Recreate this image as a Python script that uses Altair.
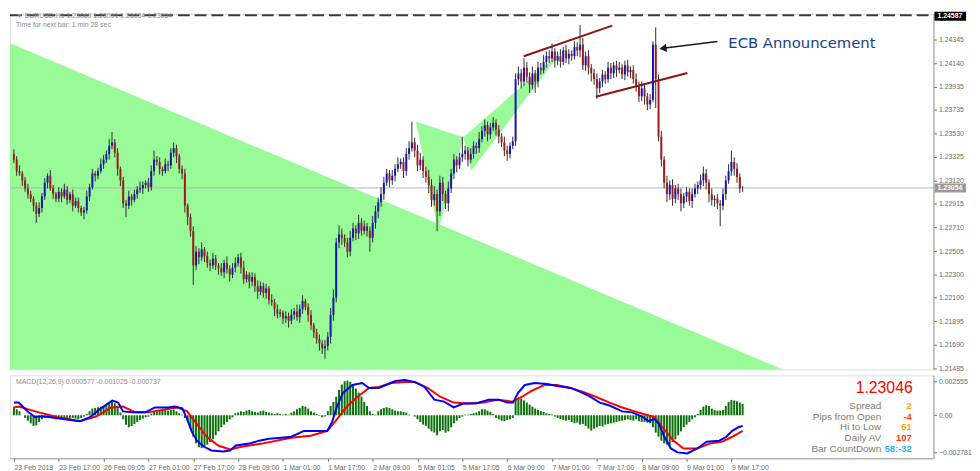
import altair as alt
import pandas as pd

# ---------------- candle data (prices in 1e-4 units) ----------------
first_open = 12335
closes = [
    12330, 12320, 12318, 12312, 12305, 12300, 12296, 12290, 12283, 12288,
    12298, 12310, 12316, 12305, 12300, 12296, 12302, 12298, 12304, 12295,
    12300, 12290, 12294, 12288, 12284, 12286, 12298, 12306, 12318, 12316,
    12320, 12326, 12330, 12335, 12342, 12345, 12336, 12322, 12312, 12292,
    12290, 12298, 12295, 12300, 12304, 12305, 12308, 12310, 12306, 12320,
    12330, 12328, 12322, 12320, 12326, 12325, 12336, 12340, 12333, 12322,
    12318, 12290, 12280, 12268, 12238, 12250, 12245, 12252, 12246, 12240,
    12238, 12244, 12238, 12236, 12232, 12240, 12235, 12230, 12236, 12240,
    12245, 12236, 12226, 12230, 12224, 12228, 12220, 12215, 12220, 12214,
    12218, 12208, 12206, 12200, 12196, 12197, 12192, 12194, 12190, 12195,
    12198, 12193, 12200, 12207, 12202, 12195, 12186, 12180, 12174, 12170,
    12166, 12168, 12176, 12195, 12210, 12258, 12265, 12262, 12258, 12250,
    12262, 12270, 12266, 12275, 12268, 12272, 12268, 12262, 12275, 12285,
    12293, 12300, 12310, 12318, 12312, 12316, 12322, 12326, 12328, 12320,
    12335, 12340, 12345, 12338, 12325, 12330, 12320, 12315, 12308, 12295,
    12300, 12285, 12310, 12300, 12292, 12305, 12318, 12330, 12325, 12332,
    12335, 12338, 12330, 12335, 12342, 12340, 12348, 12355, 12360, 12352,
    12358, 12362, 12356, 12350, 12345, 12338, 12335, 12342, 12346, 12400,
    12405, 12398, 12410, 12402, 12395, 12405, 12398, 12410, 12408, 12415,
    12420, 12418, 12424, 12416, 12420, 12415, 12425, 12418, 12422, 12420,
    12428, 12425, 12430, 12412, 12420, 12410, 12405, 12400, 12392, 12398,
    12404, 12400, 12410, 12405, 12412, 12408, 12410, 12404, 12412, 12406,
    12408, 12400, 12395, 12385, 12392, 12385, 12378, 12382, 12430, 12400,
    12350, 12330, 12310, 12300, 12308, 12296, 12305, 12300, 12292, 12298,
    12302, 12294, 12300, 12305, 12308, 12312, 12318, 12310, 12300, 12295,
    12296, 12292, 12290, 12300, 12312, 12320, 12328, 12322, 12315, 12305, 12305,
]
up_wick = [
    4, 3, 5, 2, 3, 4, 3, 2, 3, 5,  3, 4, 2, 5, 3, 2, 4, 3, 5, 3,
    2, 4, 3, 3, 2, 3, 5, 3, 4, 2,  3, 5, 4, 3, 6, 9, 3, 4, 2, 3,
    3, 5, 2, 4, 3, 6, 3, 2, 4, 5,  8, 3, 4, 2, 5, 3, 4, 5, 3, 2,
    3, 4, 2, 3, 4, 5, 3, 6, 2, 4,  3, 5, 3, 2, 4, 3, 6, 3, 4, 5,
    3, 4, 6, 3, 2, 4, 3, 5, 4, 3,  4, 2, 5, 3, 4, 3, 2, 4, 3, 5,
    3, 6, 4, 5, 2, 3, 4, 2, 3, 4,  3, 5, 4, 6, 7, 4, 8, 5, 3, 4,
    6, 5, 3, 7, 4, 5, 3, 4, 6, 5,  4, 6, 5, 4, 3, 5, 4, 6, 3, 4,
    5, 6, 18, 4, 5, 6, 3, 4, 6, 5, 7, 4, 6, 5, 3, 6, 4, 5, 3, 4,
    15, 4, 3, 5, 4, 3, 6, 4, 5, 3, 4, 5, 3, 4, 3, 5, 4, 3, 4, 5,
    6, 4, 8, 5, 4, 6, 3, 5, 4, 6,  4, 5, 7, 3, 4, 6, 3, 5, 4, 3,
    5, 4, 17, 6, 4, 5, 3, 4, 5, 3, 4, 3, 5, 4, 3, 4, 5, 3, 4, 5,
    3, 4, 5, 3, 6, 4, 3, 5, 3, 15, 4, 5, 3, 6, 4, 5, 3, 4, 5, 3,
    4, 3, 5, 4, 3, 5, 6, 4, 3, 5,  3, 4, 3, 5, 4, 6, 10, 4, 5, 3, 2,
]
low_wick = [
    3, 4, 2, 5, 3, 4, 3, 5, 8, 3,  4, 3, 5, 2, 4, 3, 3, 5, 2, 4,
    3, 5, 2, 4, 3, 6, 3, 4, 2, 5,  3, 2, 4, 3, 5, 3, 4, 6, 5, 4,
    10, 3, 5, 2, 4, 3, 5, 3, 4, 3, 4, 3, 5, 4, 2, 5, 3, 4, 6, 4,
    5, 6, 7, 5, 17, 4, 6, 3, 5, 4, 5, 3, 4, 6, 3, 5, 4, 6, 3, 4,
    3, 5, 4, 3, 6, 4, 5, 6, 3, 4,  5, 4, 3, 6, 4, 3, 5, 4, 6, 3,
    4, 3, 5, 4, 3, 6, 4, 5, 4, 6,  5, 9, 4, 6, 5, 4, 5, 6, 4, 5,
    4, 3, 6, 5, 4, 3, 5, 12, 4, 5, 6, 4, 5, 3, 6, 4, 5, 3, 4, 6,
    4, 5, 3, 6, 5, 4, 6, 5, 7, 6,  5, 17, 4, 6, 5, 7, 4, 5, 6, 3,
    4, 5, 6, 3, 4, 5, 4, 3, 5, 6,  4, 3, 5, 6, 4, 5, 6, 4, 3, 4,
    5, 6, 4, 5, 7, 4, 10, 5, 4, 3, 5, 4, 3, 6, 4, 5, 3, 4, 5, 4,
    3, 5, 6, 4, 5, 6, 7, 5, 9, 4,  5, 4, 3, 5, 4, 6, 3, 4, 5, 4,
    5, 4, 6, 5, 4, 7, 5, 4, 2, 25, 4, 6, 5, 7, 5, 6, 4, 5, 7, 4,
    5, 4, 6, 3, 5, 4, 5, 6, 7, 5,  6, 5, 18, 4, 5, 3, 4, 6, 5, 4, 3,
]

# ---------------- MACD panel data ----------------
macd_hist = [  # 1e-6 units
    600, 450, 300, 0, -200, -400, -600, -800, -750, -500,
    -300, -200, -150, -200, -250, -300, -250, -200, -250, -300,
    -250, -200, -250, -300, -200, -100, 100, 300, 500, 550,
    600, 650, 700, 800, 950, 1000, 900, 700, 200, -300,
    -700, -900, -800, -650, -500, -350, -250, -150, -100, 100,
    250, 300, 350, 400, 380, 350, 400, 420, 300, 150,
    50, -200, -400, -1000, -1600, -2100, -2400, -2450, -2300, -2200,
    -2000, -1800, -1500, -1200, -900, -700, -500, -300, -150, 150,
    200, 300, 250, 350, 400, 300, 250, 200, 300, 350,
    250, 200, 150, 100, 150, 100, 50, 100, 50, 200,
    300, 450, 550, 700, 650, 500, 300, 200, 100, -50,
    -150, -100, 300, 700, 1000, 1400, 1900, 2300, 2550, 2600,
    2500, 2300, 2000, 1700, 1400, 1000, 700, 300, 100, 50,
    300, 450, 550, 600, 550, 450, 350, 300, 300, 250,
    200, 50, 0, -100, -300, -500, -700, -800, -1000, -1200,
    -1300, -1500, -1200, -1100, -1300, -1200, -900, -600, -400, -200,
    -100, 50, 50, 100, 150, 200, 300, 450, 450, 350,
    250, 100, -200, -300, -400, -450, -350, -300, -200, 1200,
    1300, 1250, 1100, 950, 800, 650, 500, 400, 300, 250,
    150, 100, 50, -100, -200, -300, -350, -400, -350, -500,
    -600, -550, -700, -650, -800, -1000, -1150, -1000, -900, -800,
    -850, -700, -650, -600, -550, -500, -450, -400, -350, -300,
    -350, -400, -300, -450, -500, -500, -550, -600, -900, -1300,
    -1600, -1900, -2100, -2200, -2250, -2000, -1800, -1500, -1200, -900,
    -700, -500, -300, -150, 100, 400, 650, 750, 700, 500,
    400, 350, 350, 400, 700, 1000, 1150, 1100, 1050, 950, 850,
]
blue_i = [0, 1.7, 3.5, 5.2, 7.6, 9.7, 13.2, 18.1, 23.6, 27.1, 30.6, 33.0, 35.1, 37.2, 38.9,
          42.4, 46.9, 50.3, 54.9, 57.3, 60.1, 61.8, 63.5, 65.3, 67.7, 70.5, 74.7, 77.1, 79.2,
          84.0, 87.5, 91.0, 95.5, 99.0, 103.5, 106.9, 109.4, 111.8, 113.5, 115.3, 117.4, 120.8,
          124.3, 126.7, 130.2, 136.1, 139.6, 143.1, 146.5, 150.0, 153.5, 156.9, 160.4, 164.9,
          169.4, 172.9, 176.0, 178.1, 179.9, 182.3, 185.8, 190.3, 193.8, 198.6, 202.1, 205.6,
          209.0, 212.5, 217.0, 220.5, 224.0, 226.4, 228.5, 230.2, 231.9, 234.4, 236.8, 240.3,
          243.8, 247.2, 251.7, 254.2, 256.3, 258.7, 260.0]
blue_v = [950, 950, 585, 219, -146, -73, -146, -292, -439, -146, 439, 804, 1097, 950, 292,
          219, 219, 585, 585, 658, 512, -292, -1243, -1901, -2339, -2632, -2705, -2632, -2266,
          -2120, -1901, -1754, -1681, -1608, -1170, -1170, -1170, -1170, -512, 658, 1681, 2266,
          2412, 2047, 2047, 2559, 2632, 2485, 2120, 1170, 1023, 585, 877, 877,
          1170, 1170, 950, 950, 1681, 2266, 2412, 2339, 2193, 2047, 1754, 1389,
          950, 731, 292, 219, -73, -439, -292, -658, -1535, -2485, -2778, -2851,
          -2485, -1974, -1901, -1608, -1170, -877, -804]
red_i = [0, 1.7, 7.6, 15.6, 23.6, 29.5, 34.7, 38.9, 43.4, 47.9, 53.8, 58.3, 61.8, 65.3, 68.8,
         72.9, 77.1, 81.6, 88.5, 99.0, 105.9, 111.8, 115.3, 118.8, 122.2, 126.7, 130.2, 134.7,
         139.6, 143.1, 147.6, 152.1, 156.9, 161.5, 167.4, 172.9, 177.8, 181.3, 184.7, 189.2,
         193.8, 198.6, 203.1, 207.6, 212.5, 217.0, 221.5, 225.0, 228.5, 231.9, 235.4, 238.9,
         243.8, 248.3, 252.8, 256.3, 260.0]
red_v = [585, 658, 292, -146, -439, -73, 585, 658, 219, 219, 439, 585, 292, -658, -1608,
         -2266, -2559, -2339, -2120, -1681, -1535, -1170, -292, 658, 1316, 2047, 2120, 2412,
         2485, 2485, 2047, 1389, 950, 877, 950, 1170, 1023, 1389, 1828, 2266,
         2266, 2047, 1754, 1389, 950, 585, 292, 73, -146, -1023, -1901, -2485,
         -2485, -2120, -1974, -1608, -1170]

# ---------------- axes ----------------
x_tick_bars = list(range(0, 257, 16))
x_tick_labels = ["23 Feb 2018", "23 Feb 17:00", "26 Feb 09:05", "27 Feb 01:00", "27 Feb 17:00",
                 "28 Feb 09:00", "1 Mar 01:00", "1 Mar 17:00", "2 Mar 09:00", "5 Mar 01:05",
                 "5 Mar 17:05", "6 Mar 09:00", "7 Mar 01:00", "7 Mar 17:00", "8 Mar 09:00",
                 "9 Mar 01:00", "9 Mar 17:00"]
price_ticks = [1.24345, 1.24140, 1.23935, 1.23735, 1.23530, 1.23325, 1.23120,
               1.22915, 1.22710, 1.22505, 1.22300, 1.22100, 1.21895, 1.21690, 1.21485]
macd_ticks = [0.002555, 0.0, -0.002781]

# ---------------- annotations (bar index, price) ----------------
big_tri_i = [-2.0, 274.3]
big_tri_p = [1.24320, 1.21476]
xab_i = [143.4, 151.4, 160.4]
xab_p = [1.23632, 1.22679, 1.23495]
bcd_i = [160.4, 163.2, 195.5]
bcd_p = [1.23495, 1.23203, 1.24242]
trend1_i = [181.9, 213.5]
trend1_p = [1.24199, 1.24465]
trend2_i = [207.6, 240.3]
trend2_p = [1.23847, 1.24053]
arrow_i = [251.0, 231.6]
arrow_p = [1.24328, 1.24268]
ecb_i, ecb_p = 254.9, 1.24311
current_price = 1.23054
high_line_text = "1.24587"
bid_text = "1.23046"
info_labels = ["Spread", "Pips from Open", "Hi to Low", "Daily AV", "Bar CountDown"]
info_values = ["2", "-4", "61", "107", "58:-32"]
info_colors = ["#FFA500", "#FF4500", "#FFA500", "#FF3300", "#1EB4F0"]

# ---------------- layout ----------------
W = 935
H_MAIN = 360
H_MACD = 84
XDOM = [-1.4, 328.1]
YDOM = [1.21476, 1.24568]
MDOM = [-0.00322, 0.00299]
FONT = "Liberation Sans"
AXC = "#6a6a6a"

xs = alt.Scale(domain=XDOM, nice=False, zero=False)
ys = alt.Scale(domain=YDOM, nice=False, zero=False)
ms = alt.Scale(domain=MDOM, nice=False, zero=False)

main_axis = alt.Axis(orient="right", values=price_ticks, format=".5f", title=None,
                     labelFontSize=7, labelFont=FONT, labelColor=AXC, tickColor=AXC,
                     tickSize=3, domainColor="#9a9a9a", grid=False, labelOverlap=False,
                     labelFlush=False, labelPadding=2)
macd_axis = alt.Axis(orient="right", values=macd_ticks, title=None,
                     labelExpr="datum.value == 0 ? '0.00' : format(datum.value, '.6f')",
                     labelFontSize=7, labelFont=FONT, labelColor=AXC, tickColor=AXC,
                     tickSize=3, domainColor="#9a9a9a", grid=False, labelOverlap=False,
                     labelFlush=False, labelPadding=2)
lab_arr = "[" + ",".join("'" + s + "'" for s in x_tick_labels) + "]"
x_axis = alt.Axis(orient="bottom", values=x_tick_bars, title=None,
                  labelExpr=lab_arr + "[round(datum.value/16)]",
                  labelAlign="left", labelFontSize=7, labelFont=FONT, labelColor=AXC,
                  tickColor=AXC, tickSize=3, domainColor="#9a9a9a", grid=False,
                  labelOverlap=False, labelFlush=False, labelPadding=2)


def XM(f):
    return alt.X(f, type="quantitative", scale=xs, axis=None)


def YM(f):
    return alt.Y(f, type="quantitative", scale=ys, axis=main_axis)


def XB(f):
    return alt.X(f, type="quantitative", scale=xs, axis=x_axis)


def YB(f):
    return alt.Y(f, type="quantitative", scale=ms, axis=macd_axis)


# candles table
opens = [first_open] + closes[:-1]
rows = []
for k in range(len(closes)):
    o, c = opens[k], closes[k]
    rows.append(dict(i=k, o=o / 1e4, c=c / 1e4,
                     h=(max(o, c) + up_wick[k]) / 1e4,
                     l=(min(o, c) - low_wick[k]) / 1e4,
                     d="up" if c >= o else "dn"))
candles = pd.DataFrame(rows)


def tri_rows(xv, pv, name):
    pts = sorted(zip(xv, pv))
    (xa, ya), (xb, yb), (xc, yc) = pts
    yac = ya + (yc - ya) * (xb - xa) / (xc - xa)
    return [dict(t=name, i=xa, p1=ya, p2=ya),
            dict(t=name, i=xb, p1=yb, p2=yac),
            dict(t=name, i=xc, p1=yc, p2=yc)]


tri_df = pd.DataFrame(
    [dict(t="big", i=big_tri_i[0], p1=big_tri_p[0], p2=1.2100),
     dict(t="big", i=big_tri_i[1], p1=big_tri_p[1], p2=1.2100)]
    + tri_rows(xab_i, xab_p, "xab") + tri_rows(bcd_i, bcd_p, "bcd"))

green = alt.Chart(tri_df).mark_area(color="#98FB98", opacity=1, clip=True).encode(
    x=XM("i"), y=YM("p1"), y2="p2", detail="t:N")

one = pd.DataFrame({"a": [0]})
price_line = alt.Chart(one).mark_rule(color="#B4B4B4", strokeWidth=1).encode(
    y=YM("p")).transform_calculate(p=str(current_price))
# the day-high dashed line sits on the very top edge of the price panel
high_dash = alt.Chart(one).mark_rule(color="#3a3a3a", strokeWidth=2, strokeDash=[12, 5]).encode(
    x=alt.value(0), x2=alt.value(W), y=alt.value(1.5))

tl_df = pd.DataFrame(
    [dict(t="a", i=trend1_i[j], p=trend1_p[j]) for j in range(2)]
    + [dict(t="b", i=trend2_i[j], p=trend2_p[j]) for j in range(2)])
trend = alt.Chart(tl_df).mark_line(color="#8E1414", strokeWidth=2).encode(
    x=XM("i"), y=YM("p"), detail="t:N")

wicks = alt.Chart(candles).mark_rule(color="#2c2c2c", strokeWidth=1).encode(
    x=XM("i"), y=YM("l"), y2="h")
bodies = alt.Chart(candles).mark_rule(strokeWidth=2).encode(
    x=XM("i"), y=YM("o"), y2="c",
    color=alt.Color("d:N", scale=alt.Scale(domain=["up", "dn"], range=["#1616B8", "#A31818"]),
                    legend=None))

arrow_df = pd.DataFrame({"i": arrow_i, "p": arrow_p})
shaft = alt.Chart(arrow_df).mark_line(color="#1a1a1a", strokeWidth=1.6).encode(
    x=XM("i"), y=YM("p"))
head = alt.Chart(arrow_df.iloc[[1]]).mark_point(
    shape="triangle-left", filled=True, color="#1a1a1a", size=70, angle=352.5, opacity=1).encode(
    x=XM("i"), y=YM("p"))
ecb = alt.Chart(pd.DataFrame({"i": [ecb_i], "p": [ecb_p], "t": ["ECB Announcement"]})).mark_text(
    align="left", baseline="middle", font="DejaVu Sans", fontSize=15, color="#13408E").encode(
    x=XM("i"), y=YM("p"), text="t:N")

hdr = alt.Chart(one).mark_text(align="left", baseline="middle", font=FONT, fontSize=7,
                               color="#8a8a8a").encode(
    x=alt.value(6), y=alt.value(2), text=alt.value("\u25bc EURUSD,H1  1.23069 1.23091 1.23034 1.23054"))
timer = alt.Chart(one).mark_text(align="left", baseline="middle", font=FONT, fontSize=7,
                                 color="#8a8a8a").encode(
    x=alt.value(6), y=alt.value(11), text=alt.value("Time for next bar: 1 min 28 sec"))

# price tags on the right axis
top_box = alt.Chart(one).mark_rect(color="#000000").encode(
    x=alt.value(W + 1), x2=alt.value(W + 33), y=alt.value(-2), y2=alt.value(7))
top_txt = alt.Chart(one).mark_text(align="left", baseline="middle", font=FONT, fontSize=7,
                                   color="white", fontWeight="bold").encode(
    x=alt.value(W + 4), y=alt.value(2.5), text=alt.value(high_line_text))
cur_df = pd.DataFrame({"p": [current_price], "t": ["%.5f" % current_price]})
cur_df["p1"] = cur_df["p"] - 0.00039
cur_df["p2"] = cur_df["p"] + 0.00039
cur_box = alt.Chart(cur_df).mark_rect(color="#9a9a9a").encode(
    x=alt.value(W + 1), x2=alt.value(W + 33), y=YM("p1"), y2="p2")
cur_txt = alt.Chart(cur_df).mark_text(align="left", baseline="middle", font=FONT, fontSize=7,
                                      color="white", fontWeight="bold").encode(
    x=alt.value(W + 4), y=YM("p"), text="t:N")

main = alt.layer(green, price_line, high_dash, trend, wicks, bodies, shaft, head, ecb,
                 hdr, timer, top_box, top_txt, cur_box, cur_txt).properties(width=W, height=H_MAIN)

# ---------------- MACD panel ----------------
hist_df = pd.DataFrame({"i": list(range(len(macd_hist))), "v": [v / 1e6 for v in macd_hist]})
hist = alt.Chart(hist_df).mark_rule(color="#0A700A", strokeWidth=2).encode(
    x=XB("i"), y=YB("v"), y2=alt.datum(0))
red_df = pd.DataFrame({"i": red_i, "v": [v / 1e6 for v in red_v]})
blue_df = pd.DataFrame({"i": blue_i, "v": [v / 1e6 for v in blue_v]})
red_line = alt.Chart(red_df).mark_line(color="#FF0000", strokeWidth=2).encode(x=XB("i"), y=YB("v"))
blue_line = alt.Chart(blue_df).mark_line(color="#0000FF", strokeWidth=2).encode(x=XB("i"), y=YB("v"))

macd_title = alt.Chart(one).mark_text(align="left", baseline="middle", font=FONT, fontSize=7,
                                      color="#8a8a8a").encode(
    x=alt.value(6), y=alt.value(7), text=alt.value("MACD(12,26,9) 0.000577 -0.001025 -0.000737"))
bid = alt.Chart(one).mark_text(align="right", baseline="middle", font=FONT, fontSize=16,
                               color="#FF0000").encode(
    x=alt.value(914), y=alt.value(13), text=alt.value(bid_text))
info_df = pd.DataFrame({"lab": info_labels, "val": info_values, "col": info_colors,
                        "ypix": [31 + 10.8 * k for k in range(len(info_labels))]})
info_l = alt.Chart(info_df).mark_text(align="right", baseline="middle", font=FONT, fontSize=10,
                                      color="#7a7a7a").encode(
    x=alt.value(882), y=alt.Y("ypix:Q", scale=None), text="lab:N")
info_v = alt.Chart(info_df).mark_text(align="right", baseline="middle", font=FONT, fontSize=9.5,
                                      fontWeight="bold").encode(
    x=alt.value(913), y=alt.Y("ypix:Q", scale=None), text="val:N",
    color=alt.Color("col:N", scale=None))

macd = alt.layer(hist, red_line, blue_line, macd_title, bid, info_l, info_v).properties(
    width=W, height=H_MACD)

chart = alt.vconcat(main, macd, spacing=2).properties(padding=0).configure_view(
    stroke="#a0a0a0", strokeWidth=1).configure(background="white")

chart.save("out.html", embed_options={"renderer": "svg", "actions": False})
